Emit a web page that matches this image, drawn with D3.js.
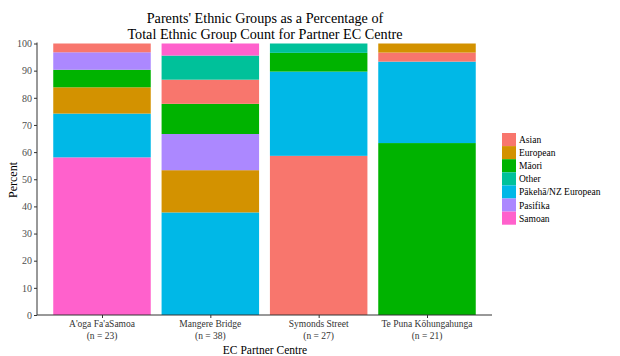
<!DOCTYPE html>
<html><head><meta charset="utf-8">
<script src="https://cdn.jsdelivr.net/npm/d3@7"></script>
<style>body{margin:0;background:#fff}svg{display:block}text{font-family:"Liberation Serif","Times New Roman",serif}</style>
</head><body><svg id="c" width="620" height="356"></svg>
<script>
const centres = ["A'oga Fa'aSamoa", "Mangere Bridge", "Symonds Street", "Te Puna Kōhungahunga"];
const centreN = ["(n = 23)", "(n = 38)", "(n = 27)", "(n = 21)"];
const groups = ["Asian", "European", "Māori", "Other", "Pākehā/NZ European", "Pasifika", "Samoan"];
const groupColors = ["#F8766D", "#D39200", "#00B300", "#00C19A", "#00B8E7", "#AC88FF", "#FF61CC"];
// stacking order bottom->top per centre, with percentages
const aogaGroups = ["Samoan", "Pākehā/NZ European", "European", "Māori", "Pasifika", "Asian"];
const aogaValues = [58.06, 16.13, 9.68, 6.45, 6.45, 3.23];
const mangereGroups = ["Pākehā/NZ European", "European", "Pasifika", "Māori", "Asian", "Other", "Samoan"];
const mangereValues = [37.78, 15.56, 13.33, 11.11, 8.89, 8.89, 4.44];
const symondsGroups = ["Asian", "Pākehā/NZ European", "Māori", "Other"];
const symondsValues = [58.62, 31.03, 6.90, 3.45];
const tepunaGroups = ["Māori", "Pākehā/NZ European", "Asian", "European"];
const tepunaValues = [63.33, 30.00, 3.33, 3.34];
const yTicks = [0, 10, 20, 30, 40, 50, 60, 70, 80, 90, 100];

const stacks = [[aogaGroups, aogaValues], [mangereGroups, mangereValues], [symondsGroups, symondsValues], [tepunaGroups, tepunaValues]];
const svg = d3.select("#c");
const x = d3.scalePoint().domain(centres).range([37, 492]).padding(0.6);
const bw = x.step() * 0.9;
const y = d3.scaleLinear().domain([0, 100]).range([315, 43.5]);
const color = d3.scaleOrdinal().domain(groups).range(groupColors);

const rects = [];
stacks.forEach(([gs, vs], i) => {
  let cum = 0;
  gs.forEach((g, j) => { rects.push({c: centres[i], g, y0: cum, y1: cum + vs[j]}); cum += vs[j]; });
});
svg.append("g").selectAll("rect").data(rects).join("rect")
  .attr("x", d => x(d.c) - bw / 2).attr("width", bw)
  .attr("y", d => y(d.y1)).attr("height", d => y(d.y0) - y(d.y1))
  .attr("fill", d => color(d.g));

const ya = svg.append("g").attr("transform", "translate(37,0)")
  .call(d3.axisLeft(y).tickValues(yTicks).tickSize(3).tickPadding(2));
ya.attr("font-family", null);
ya.select(".domain").attr("stroke", "#333").attr("d", `M0,${y(0)}V${y(100) - 1}`);
ya.selectAll(".tick line").attr("stroke", "#333");
ya.selectAll("text").attr("font-size", 10).attr("fill", "#4D4D4D");

const xa = svg.append("g").attr("transform", "translate(0,315)")
  .call(d3.axisBottom(x).tickSize(3).tickFormat(""));
xa.select(".domain").attr("stroke", "#333").attr("d", "M37,0H492");
xa.selectAll(".tick line").attr("stroke", "#333");
centres.forEach((c, i) => {
  const t = svg.append("text").attr("x", x(c)).attr("text-anchor", "middle").attr("font-size", 9.5).attr("fill", "#333");
  t.append("tspan").attr("x", x(c)).attr("y", 327).text(c);
  t.append("tspan").attr("x", x(c)).attr("y", 338.5).text(centreN[i]);
});

svg.append("text").attr("x", 265).attr("y", 354).attr("text-anchor", "middle").attr("font-size", 11.5).text("EC Partner Centre");
svg.append("text").attr("transform", "translate(17,180) rotate(-90)").attr("text-anchor", "middle").attr("font-size", 12).text("Percent");

svg.append("text").attr("text-anchor", "middle").attr("font-size", 14.2)
  .attr("x", 265).attr("y", 23).text("Parents' Ethnic Groups as a Percentage of");
svg.append("text").attr("text-anchor", "middle").attr("font-size", 14.2)
  .attr("x", 265).attr("y", 39).text("Total Ethnic Group Count for Partner EC Centre");

const lg = svg.append("g").attr("transform", "translate(502,133)");
groups.forEach((g, i) => {
  lg.append("rect").attr("x", 0).attr("y", i * 13.1).attr("width", 14).attr("height", 13.1).attr("fill", color(g));
  lg.append("text").attr("x", 17).attr("y", i * 13.1 + 10).attr("font-size", 9.5).text(g);
});
</script></body></html>
